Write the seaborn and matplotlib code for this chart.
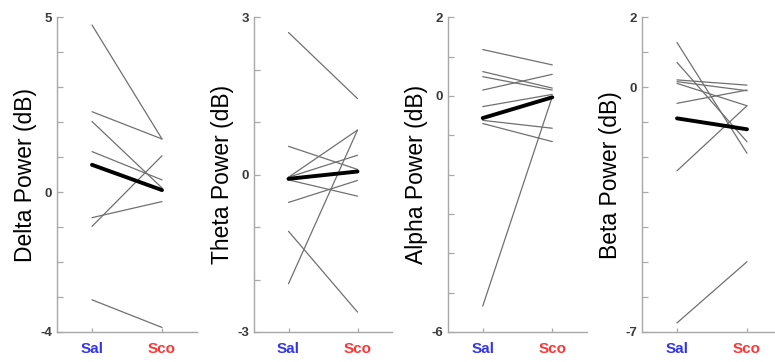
import numpy as np
import pandas as pd
import matplotlib
matplotlib.use("Agg")
import matplotlib.pyplot as plt
import seaborn as sns

sns.set_theme(style="white")
plt.rcParams['font.family'] = ['Liberation Sans', 'DejaVu Sans']

conditions = ["Sal", "Sco"]
cond_colors = ["#3535e8", "#ff3535"]

delta_sal = [4.78, 2.30, 2.02, 1.16, -0.98, -0.73, -3.08]
delta_sco = [1.52, 1.52, 0.12, 0.35, 1.04, -0.27, -3.87]

theta_sal = [2.71, 0.54, -0.05, -0.05, -0.10, -0.53, -1.08, -2.08]
theta_sco = [1.45, 0.10, 0.85, 0.37, -0.41, -0.11, -2.62, 0.85]

alpha_sal = [1.18, 0.62, 0.49, 0.15, -0.27, -0.62, -0.70, -5.34]
alpha_sco = [0.79, 0.20, 0.15, 0.55, 0.04, -0.82, -1.16, -0.02]

beta_sal = [1.28, 0.71, 0.21, 0.16, 0.11, -0.46, -2.39, -6.74]
beta_sco = [-1.89, -1.56, 0.06, -0.10, -0.53, -0.08, -0.53, -4.99]

panels = [
    ("Delta Power (dB)", delta_sal, delta_sco, (-4, 5)),
    ("Theta Power (dB)", theta_sal, theta_sco, (-3, 3)),
    ("Alpha Power (dB)", alpha_sal, alpha_sco, (-6, 2)),
    ("Beta Power (dB)", beta_sal, beta_sco, (-7, 2)),
]

W, H = 775, 362
fig = plt.figure(figsize=(W / 100, H / 100), dpi=100)
lefts = [57, 254, 448, 642]
widths = [140, 138, 139, 140]
top_px, bot_px = 17.3, 332

spine_col = "#a8a8a8"
for (label, sal, sco, (lo, hi)), lpx, wpx in zip(panels, lefts, widths):
    ax = fig.add_axes([lpx / W, (H - bot_px) / H, wpx / W, (bot_px - top_px) / H])
    n = len(sal)
    df = pd.DataFrame({
        "subject": list(range(n)) * 2,
        "cond": ["Sal"] * n + ["Sco"] * n,
        "value": list(sal) + list(sco),
    })
    sns.lineplot(data=df, x="cond", y="value", units="subject", estimator=None,
                 color="#707070", lw=0.9, ax=ax, legend=False)
    sns.lineplot(data=df, x="cond", y="value", estimator="mean", errorbar=None,
                 color="black", lw=2.8, ax=ax, legend=False)
    ax.set_xlim(-0.5, 1.5)
    ax.set_ylim(lo, hi)
    ax.set_yticks(range(lo, hi + 1))
    ax.set_yticklabels([str(t) if t in (lo, 0, hi) else "" for t in range(lo, hi + 1)])
    ax.set_xticks([0, 1])
    ax.set_xticklabels(conditions, fontweight="bold")
    for tl, c in zip(ax.get_xticklabels(), cond_colors):
        tl.set_color(c)
    for tl in ax.get_yticklabels():
        tl.set_fontweight("bold")
    ax.tick_params(axis="y", direction="in", length=4.5, width=0.9, color=spine_col,
                   labelsize=9.5, labelcolor="#3a3a3a", pad=3.5, left=True)
    ax.tick_params(axis="x", direction="in", length=3, width=0.9, color=spine_col,
                   labelsize=11, pad=7, bottom=True)
    for s in ["top", "right"]:
        ax.spines[s].set_visible(False)
    for s in ["left", "bottom"]:
        ax.spines[s].set_color(spine_col)
        ax.spines[s].set_linewidth(1.0)
    ax.set_xlabel("")
    ax.set_ylabel(label, fontsize=16.5, color="black")
    ax.yaxis.set_label_coords(-20 / wpx, 0.5)
    ax.grid(False)

fig.savefig("out.png", dpi=100)
